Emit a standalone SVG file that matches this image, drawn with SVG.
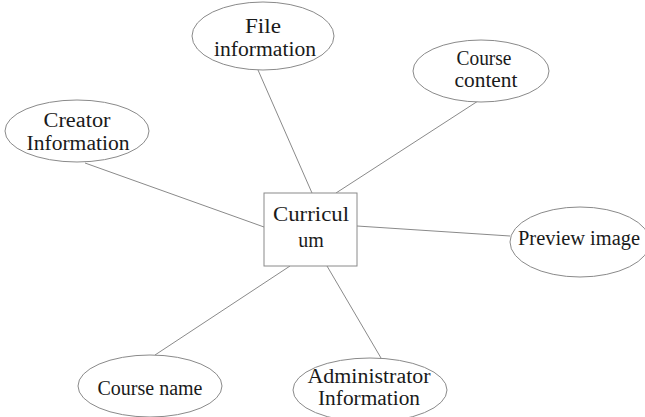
<svg xmlns="http://www.w3.org/2000/svg" width="645" height="417" viewBox="0 0 645 417">
  <style>
    .shape { fill: #ffffff; stroke: #8a8a8a; stroke-width: 1; }
    .link { stroke: #8a8a8a; stroke-width: 1; fill: none; }
    text { font-family: "Liberation Serif", "DejaVu Serif", serif; font-size: 20px; fill: #1a1a1a; text-anchor: middle; }
  </style>
  <rect width="645" height="417" fill="#ffffff"/>
  <g id="connectors">
    <line class="link" x1="258" y1="70" x2="312" y2="193"/>
    <line class="link" x1="478" y1="101" x2="336" y2="193"/>
    <line class="link" x1="85" y1="163" x2="264" y2="227"/>
    <line class="link" x1="357" y1="226" x2="510" y2="236"/>
    <line class="link" x1="155" y1="355" x2="290" y2="266"/>
    <line class="link" x1="381" y1="358" x2="327" y2="266"/>
  </g>
  <g id="curriculum">
    <rect class="shape" x="264" y="193" width="93" height="73"/>
    <text x="311" y="221" textLength="76" lengthAdjust="spacingAndGlyphs">Curricul</text>
    <text x="311" y="247">um</text>
  </g>
  <g id="file-information">
    <ellipse class="shape" cx="263" cy="36" rx="71" ry="34"/>
    <text x="263" y="33" textLength="36" lengthAdjust="spacingAndGlyphs">File</text>
    <text x="265" y="56" textLength="102" lengthAdjust="spacingAndGlyphs">information</text>
  </g>
  <g id="course-content">
    <ellipse class="shape" cx="481" cy="71" rx="68" ry="31"/>
    <text x="484" y="65" textLength="55" lengthAdjust="spacingAndGlyphs">Course</text>
    <text x="486" y="87" textLength="63" lengthAdjust="spacingAndGlyphs">content</text>
  </g>
  <g id="creator-information">
    <ellipse class="shape" cx="77" cy="131" rx="72" ry="31"/>
    <text x="77" y="127" textLength="67" lengthAdjust="spacingAndGlyphs">Creator</text>
    <text x="78" y="150" textLength="103" lengthAdjust="spacingAndGlyphs">Information</text>
  </g>
  <g id="preview-image">
    <ellipse class="shape" cx="580" cy="242" rx="70" ry="35"/>
    <text x="579" y="245" textLength="122" lengthAdjust="spacingAndGlyphs">Preview image</text>
  </g>
  <g id="course-name">
    <ellipse class="shape" cx="150" cy="386" rx="72" ry="31"/>
    <text x="150" y="395" textLength="105" lengthAdjust="spacingAndGlyphs">Course name</text>
  </g>
  <g id="administrator-information">
    <ellipse class="shape" cx="370" cy="390" rx="77" ry="32"/>
    <text x="369" y="383" textLength="123" lengthAdjust="spacingAndGlyphs">Administrator</text>
    <text x="369" y="405" textLength="102" lengthAdjust="spacingAndGlyphs">Information</text>
  </g>
</svg>
